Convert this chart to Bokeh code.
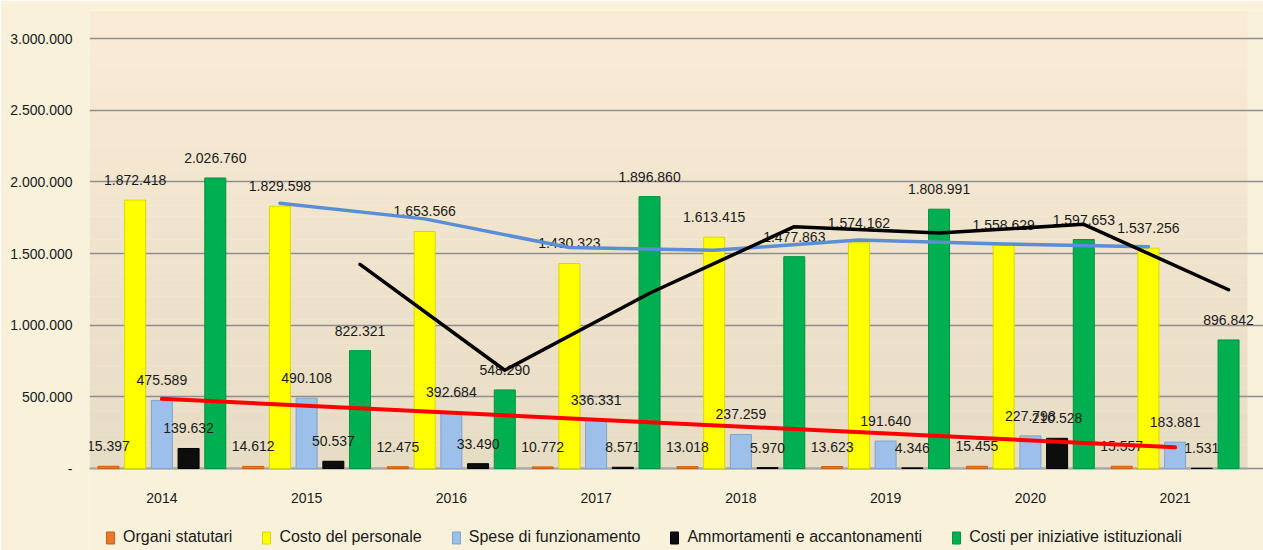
import numpy as np
from bokeh.plotting import figure
from bokeh.models import (ColumnDataSource, Range1d, Legend, LegendItem,
                          BoxAnnotation, FixedTicker)
from bokeh.core.properties import value
from bokeh.embed import file_html
from bokeh.resources import INLINE

# ---------------- data ----------------
years = ["2014", "2015", "2016", "2017", "2018", "2019", "2020", "2021"]
organi = [15397, 14612, 12475, 10772, 13018, 13623, 15455, 15557]
personale = [1872418, 1829598, 1653566, 1430323, 1613415, 1574162, 1558629, 1537256]
funzionamento = [475589, 490108, 392684, 336331, 237259, 191640, 227798, 183881]
ammortamenti = [139632, 50537, 33490, 8571, 5970, 4346, 210528, 1531]
iniziative = [2026760, 822321, 548290, 1896860, 1477863, 1808991, 1597653, 896842]

series_names = ["Organi statutari", "Costo del personale", "Spese di funzionamento",
                "Ammortamenti e accantonamenti", "Costi per iniziative istituzionali"]
y_ticks = [0, 500000, 1000000, 1500000, 2000000, 2500000, 3000000]
y_tick_labels = ["-", "500.000", "1.000.000", "1.500.000", "2.000.000", "2.500.000", "3.000.000"]

# ---------------- styling / geometry ----------------
FONT = "Liberation Sans"
fills = ["#E8792A", "#FFFF00", "#9DC0EA", "#0D0D0D", "#00B050"]
edges = ["#C85F14", "#D9D900", "#7FA3CF", "#000000", "#00933F"]
offsets = [-0.369, -0.1845, 0.0, 0.1845, 0.369]
BAR_W = 0.145
OUTER = "#F9F1DA"
W, H = 1263, 550
LEFT, TOP = 89, 10                     # borders around the frame (px)
PLOT_RIGHT = 1247                      # pixel column where the plot area ends
ZERO_PX = 468                          # pixel row of value 0 (from top)
UNIT = 3000000 / 430                   # value per pixel
Y_END = (ZERO_PX - TOP) * UNIT
Y_START = -(H - ZERO_PX) * UNIT
X_START, X_LAST = -0.5, 7.5
CAT_PX = (PLOT_RIGHT - LEFT) / (X_LAST - X_START)
X_END = X_LAST + (W - PLOT_RIGHT) / CAT_PX


def fmt(v):
    return f"{int(round(v)):,}".replace(",", ".")


idx = np.arange(len(years))

p = figure(x_range=Range1d(X_START, X_END), y_range=Range1d(Y_START, Y_END),
           width=W, height=H, output_backend="svg", toolbar_location=None,
           min_border_left=LEFT, min_border_right=0, min_border_top=TOP,
           min_border_bottom=0)

p.border_fill_color = OUTER
p.background_fill_color = OUTER
p.outline_line_color = None
p.xaxis.visible = False

# vertical gradient of plot area
top_c = np.array([0xFB, 0xEC, 0xD5])
bot_c = np.array([0xE7, 0xDC, 0xC4])
n_b = 40
edges_y = np.linspace(0, Y_END, n_b + 1)
for i in range(n_b):
    t = (i + 0.5) / n_b
    c = (bot_c * (1 - t) + top_c * t).astype(int)
    p.add_layout(BoxAnnotation(bottom=edges_y[i], top=edges_y[i + 1], left=X_START, right=X_LAST,
                               fill_color="#%02x%02x%02x" % tuple(c), fill_alpha=1.0,
                               line_color=None, level="image"))

p.ygrid.grid_line_color = "#8E8E8E"
p.ygrid.grid_line_width = 1.5
p.ygrid.level = "underlay"
p.ygrid.bounds = (X_START, X_LAST)
p.xgrid.grid_line_color = None

p.yaxis.ticker = FixedTicker(ticks=y_ticks)
p.yaxis.major_label_overrides = {t: l for t, l in zip(y_ticks, y_tick_labels)}
p.yaxis.axis_line_color = None
p.yaxis.major_tick_line_color = None
p.yaxis.major_tick_out = 0
p.yaxis.minor_tick_line_color = None
p.yaxis.major_label_standoff = 17
p.yaxis.major_label_text_font = FONT
p.yaxis.major_label_text_font_size = "14px"
p.yaxis.major_label_text_color = "#1A1A1A"

# category axis: base line and year labels
p.line(x=[X_START, X_LAST], y=[0, 0], line_color="#A6A6A6", line_width=2)
p.text(x=idx, y=[0] * len(years), text=years, text_align="center", text_baseline="middle",
       y_offset=29, text_font=value(FONT), text_font_size="14px", text_color="#1A1A1A")

all_series = [organi, personale, funzionamento, ammortamenti, iniziative]
sources = [ColumnDataSource(dict(x=idx + offsets[k], y=s, lab=[fmt(v) for v in s]))
           for k, s in enumerate(all_series)]

bar_renderers = []
for k, src in enumerate(sources):
    r = p.vbar(x="x", top="y", width=BAR_W, source=src,
               fill_color=fills[k], line_color=edges[k], line_width=1)
    bar_renderers.append(r)

for src in sources:
    p.text(x="x", y="y", text="lab", source=src, text_align="center",
           text_baseline="middle", y_offset=-20, text_font=value(FONT),
           text_font_size="14px", text_color="#1A1A1A")

# derived lines: 2-period moving averages and linear trend
pers = np.array(personale, dtype=float)
ini = np.array(iniziative, dtype=float)
ma_pers = (pers[1:] + pers[:-1]) / 2
ma_ini = (ini[1:] + ini[:-1]) / 2
slope, intercept = np.polyfit(idx, np.array(funzionamento, dtype=float), 1)
trend = [intercept, intercept + slope * idx[-1]]

p.line(x=idx[1:] + offsets[1], y=ma_pers, line_color="#5A8ED6", line_width=3.5,
       line_cap="round", line_join="round")
p.line(x=idx[1:] + offsets[4], y=ma_ini, line_color="#000000", line_width=3.5,
       line_cap="round", line_join="round")
p.line(x=[idx[0] + offsets[2], idx[-1] + offsets[2]], y=trend, line_color="#FF0000",
       line_width=4, line_cap="round")

legend = Legend(items=[LegendItem(label=series_names[k], renderers=[bar_renderers[k]])
                       for k in range(5)],
                orientation="horizontal", location=(16, 4),
                glyph_width=10, glyph_height=15, label_standoff=8, spacing=29,
                label_height=18, padding=0, margin=0, background_fill_alpha=0,
                border_line_color=None, label_text_font=FONT,
                label_text_font_size="16px", label_text_color="#1A1A1A")
p.add_layout(legend, "center")

open("out.html", "w").write(file_html(p, INLINE))
